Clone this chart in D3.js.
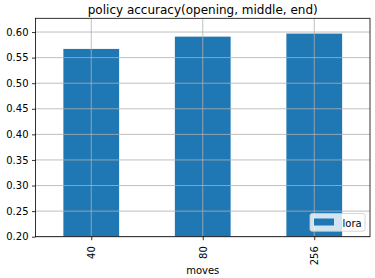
<!DOCTYPE html>
<html>
<head>
<meta charset="utf-8">
<script src="https://cdn.jsdelivr.net/npm/d3@7"></script>
<style>
  body { margin: 0; background: #fff; }
  text { font-family: "DejaVu Sans", sans-serif; fill: #000; }
</style>
</head>
<body>
<div id="container"></div>
<script>
const moves = ["40", "80", "256"];
const lora = [0.567, 0.591, 0.597];
const yTicks = [0.20, 0.25, 0.30, 0.35, 0.40, 0.45, 0.50, 0.55, 0.60];

function main() {
    const width = 375, height = 278;
    const margin = { left: 35.5, top: 18.3, right: 5, bottom: 41.3 };
    const color = "#1f77b4", gridColor = "#b0b0b0";

    const svg = d3.select("#container")
        .append("svg")
        .attr("width", width)
        .attr("height", height);
    svg.append("rect")
        .attr("width", width)
        .attr("height", height)
        .attr("fill", "#fff");

    const x = d3.scaleLinear()
        .domain([-0.5, moves.length - 0.5])
        .range([margin.left, width - margin.right]);
    const y = d3.scaleLinear()
        .domain([0.2, d3.max(lora) * 1.05])
        .range([height - margin.bottom, margin.top]);
    const barW = x(0.25) - x(0);

    // bars
    svg.append("g")
        .selectAll("rect")
        .data(lora)
        .join("rect")
        .attr("x", (d, i) => x(i) - barW)
        .attr("y", d => y(d))
        .attr("width", barW * 2)
        .attr("height", d => y(0.2) - y(d))
        .attr("fill", color);

    // grid over bars
    const grid = svg.append("g")
        .attr("stroke", gridColor)
        .attr("stroke-width", 0.8);
    grid.selectAll(".gy")
        .data(yTicks)
        .join("line")
        .attr("x1", x.range()[0])
        .attr("x2", x.range()[1])
        .attr("y1", d => y(d))
        .attr("y2", d => y(d));
    grid.selectAll(".gx")
        .data(moves)
        .join("line")
        .attr("x1", (d, i) => x(i))
        .attr("x2", (d, i) => x(i))
        .attr("y1", y.range()[0])
        .attr("y2", y.range()[1]);

    // y axis
    const yAxis = svg.append("g")
        .attr("transform", `translate(${margin.left},0)`)
        .call(d3.axisLeft(y).tickValues(yTicks).tickFormat(d3.format(".2f")).tickSize(3.5).tickPadding(3.5));
    yAxis.select(".domain").remove();
    yAxis.selectAll("line").attr("stroke", "#000").attr("stroke-width", 0.8);
    yAxis.selectAll("text")
        .attr("font-size", 10)
        .attr("font-family", "DejaVu Sans")
        .attr("fill", "#000");

    // x axis
    const xAxis = svg.append("g")
        .attr("transform", `translate(0,${y.range()[0]})`)
        .call(d3.axisBottom(x).tickValues(d3.range(moves.length)).tickFormat(i => moves[i]).tickSize(3.5).tickPadding(3.5));
    xAxis.select(".domain").remove();
    xAxis.selectAll("line").attr("stroke", "#000").attr("stroke-width", 0.8);
    xAxis.selectAll("text")
        .attr("font-size", 10)
        .attr("font-family", "DejaVu Sans")
        .attr("fill", "#000")
        .attr("text-anchor", "end")
        .attr("y", 0)
        .attr("dy", "0.35em")
        .attr("transform", "translate(0,9.5) rotate(-90)");

    // frame
    svg.append("rect")
        .attr("x", x.range()[0])
        .attr("y", y.range()[1])
        .attr("width", x.range()[1] - x.range()[0])
        .attr("height", y.range()[0] - y.range()[1])
        .attr("fill", "none")
        .attr("stroke", "#000")
        .attr("stroke-width", 0.8);

    // title and label
    const cx = (x.range()[0] + x.range()[1]) / 2;
    svg.append("text")
        .attr("x", cx)
        .attr("y", 14)
        .attr("text-anchor", "middle")
        .attr("font-size", 12)
        .text("policy accuracy(opening, middle, end)");
    svg.append("text")
        .attr("x", cx)
        .attr("y", 274)
        .attr("text-anchor", "middle")
        .attr("font-size", 10)
        .text("moves");

    // legend
    const lx = x.range()[1] - 5 - 55, ly = y.range()[0] - 5.5 - 17.7;
    const legend = svg.append("g").attr("transform", `translate(${lx},${ly})`);
    legend.append("rect")
        .attr("width", 55)
        .attr("height", 17.7)
        .attr("rx", 2)
        .attr("fill", "#fff")
        .attr("fill-opacity", 0.8)
        .attr("stroke", "#cccccc")
        .attr("stroke-width", 0.8);
    legend.append("rect")
        .attr("x", 4)
        .attr("y", 5)
        .attr("width", 20)
        .attr("height", 7)
        .attr("fill", color);
    legend.append("text")
        .attr("x", 32.5)
        .attr("y", 13.2)
        .attr("font-size", 10)
        .text("lora");
}
main();
</script>
</body>
</html>
